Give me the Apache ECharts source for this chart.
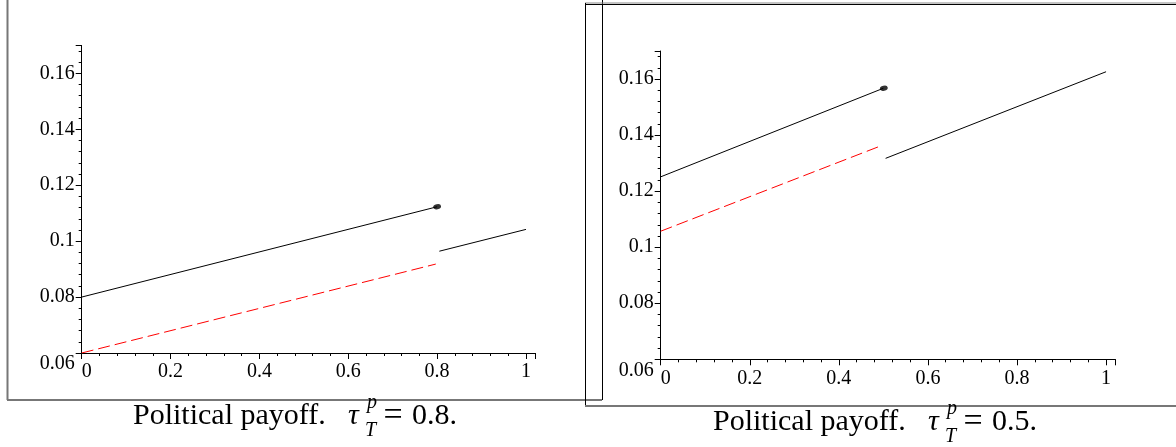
<!DOCTYPE html>
<html>
<head>
<meta charset="utf-8">
<script src="https://cdn.jsdelivr.net/npm/echarts@6/dist/echarts.min.js"></script>
<style>
html,body{margin:0;padding:0;background:#fff;}
#c{width:1176px;height:447px;}
</style>
</head>
<body>
<div id="c"></div>
<script>
// ---- data ----
var yTicks = [0.06, 0.08, 0.1, 0.12, 0.14, 0.16];
var xTicks = [0, 0.2, 0.4, 0.6, 0.8, 1];
// left panel: tau = 0.8
var leftUpper = [[0, 0.0800], [0.8, 0.1123]];
var leftDot = [[0.8, 0.1123]];
var leftLower = [[0.805, 0.0964], [1.0, 0.1042]];
var leftRed = [[0, 0.0600], [0.797, 0.0918]];
// right panel: tau = 0.5
var rightUpper = [[0, 0.1251], [0.5, 0.1567]];
var rightDot = [[0.501, 0.1567]];
var rightLower = [[0.505, 0.1317], [1.0, 0.1626]];
var rightRed = [[0, 0.1057], [0.495, 0.1362]];
var captions = ['0.8.', '0.5.'];

var FONT = 'Liberation Serif';
function fmt(v){ return String(parseFloat(Number(v).toFixed(3))); }

function xAxis(gi){
  return {
    type:'value', gridIndex:gi, min:0, max:1.021, interval:0.2,
    axisLine:{show:true, onZero:false, lineStyle:{color:'#000', width:1}},
    axisTick:{show:true, length:6, lineStyle:{color:'#000', width:1}},
    minorTick:{show:true, splitNumber:5, length:3, lineStyle:{color:'#000', width:1}},
    splitLine:{show:false},
    axisLabel:{
      showMaxLabel:false, margin:9, color:'#000', fontFamily:FONT, fontSize:20,
      formatter:function(v){ return v===0 ? '{z|0}' : fmt(v); },
      rich:{z:{fontFamily:FONT, fontSize:20, color:'#000', padding:[0,0,0,10]}}
    }
  };
}
function yAxis(gi){
  return {
    type:'value', gridIndex:gi, min:0.06, max:0.17, interval:0.02,
    axisLine:{show:true, onZero:false, lineStyle:{color:'#000', width:1}},
    axisTick:{show:true, length:6, lineStyle:{color:'#000', width:1}},
    minorTick:{show:true, splitNumber:5, length:3, lineStyle:{color:'#000', width:1}},
    splitLine:{show:false},
    axisLabel:{
      showMaxLabel:false, margin:7, color:'#000', fontFamily:FONT, fontSize:20,
      formatter:function(v){ return Math.abs(v-0.06)<1e-9 ? '{low|0.06}' : fmt(v); },
      rich:{low:{fontFamily:FONT, fontSize:20, color:'#000', padding:[22,0,0,0]}}
    }
  };
}
function line(data, gi, color, dashed){
  return {type:'line', xAxisIndex:gi, yAxisIndex:gi, data:data, symbol:'none', silent:true,
    lineStyle:{color:color, width:1, type: dashed ? [12,5] : 'solid'}, animation:false};
}
function dot(data, gi){
  return {type:'scatter', xAxisIndex:gi, yAxisIndex:gi, data:data, symbol:'circle',
    symbolSize:[8,5], symbolRotate:12, itemStyle:{color:'#000'}, silent:true, animation:false};
}

function caption(x0, baseY, val){
  var mid = baseY - 10;
  var f = '30px "'+FONT+'"', fi = 'italic 30px "'+FONT+'"', fs = 'italic 20px "'+FONT+'"';
  return {
    type:'group', children:[
      {type:'text', x:x0, y:mid, style:{text:'Political payoff.', font:f, fill:'#000', verticalAlign:'middle', align:'left'}},
      {type:'text', x:x0+215, y:mid, style:{text:'τ', font:fi, fill:'#000', verticalAlign:'middle', align:'left'}},
      {type:'text', x:x0+234, y:mid-13, style:{text:'p', font:fs, fill:'#000', verticalAlign:'middle', align:'left'}},
      {type:'text', x:x0+232, y:mid+15, style:{text:'T', font:fs, fill:'#000', verticalAlign:'middle', align:'left'}},
      {type:'text', x:x0+260, y:mid, style:{text:'=', font:'34px "'+FONT+'"', fill:'#000', verticalAlign:'middle', align:'center'}},
      {type:'text', x:x0+279, y:mid, style:{text:val, font:f, fill:'#000', verticalAlign:'middle', align:'left'}}
    ]
  };
}

var chart = echarts.init(document.getElementById('c'), null, {renderer:'canvas'});
chart.setOption({
  backgroundColor:'#fff',
  animation:false,
  grid:[
    {left:81.7, top:45.4, width:453.6, height:307.6},
    {left:660.7, top:51, width:454.7, height:308.3}
  ],
  xAxis:[xAxis(0), xAxis(1)],
  yAxis:[yAxis(0), yAxis(1)],
  series:[
    line(leftUpper,0,'#000',false), line(leftLower,0,'#000',false), line(leftRed,0,'#ff0000',true), dot(leftDot,0),
    line(rightUpper,1,'#000',false), line(rightLower,1,'#000',false), line(rightRed,1,'#ff0000',true), dot(rightDot,1)
  ],
  graphic:[
    // left frame
    {type:'line', shape:{x1:7.5,y1:-2,x2:7.5,y2:400}, style:{stroke:'#777',lineWidth:2}},
    {type:'line', shape:{x1:7,y1:400,x2:602,y2:400}, style:{stroke:'#777',lineWidth:2}},
    {type:'line', shape:{x1:602.5,y1:-2,x2:602.5,y2:400}, style:{stroke:'#000',lineWidth:1}},
    // right frame
    {type:'line', shape:{x1:585,y1:3,x2:1180,y2:3}, style:{stroke:'#888',lineWidth:1}},
    {type:'line', shape:{x1:585,y1:4.5,x2:1180,y2:4.5}, style:{stroke:'#000',lineWidth:1}},
    {type:'line', shape:{x1:585.5,y1:3,x2:585.5,y2:406}, style:{stroke:'#000',lineWidth:1}},
    {type:'line', shape:{x1:585,y1:406,x2:1180,y2:406}, style:{stroke:'#777',lineWidth:2}},
    caption(133, 425.7, captions[0]),
    caption(713, 431.7, captions[1])
  ]
});
</script>
</body>
</html>
